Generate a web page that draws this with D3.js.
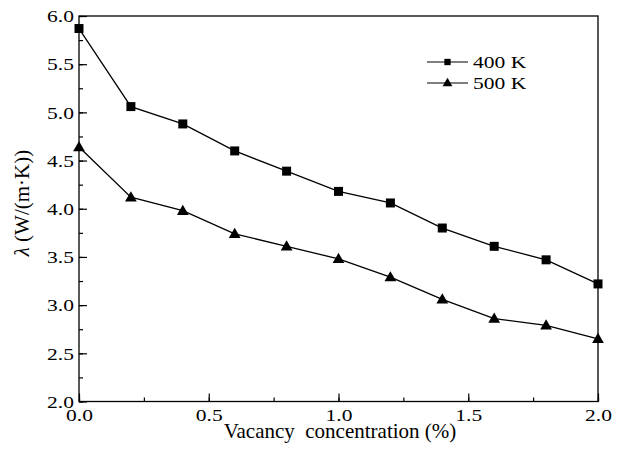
<!DOCTYPE html>
<html><head><meta charset="utf-8">
<script src="https://cdn.jsdelivr.net/npm/d3@7"></script>
<style>body{margin:0;background:#fff}svg{display:block}text{font-family:"Liberation Serif","Times New Roman",serif;fill:#000}</style>
</head><body>
<script>
const concentration = [0.0, 0.2, 0.4, 0.6, 0.8, 1.0, 1.2, 1.4, 1.6, 1.8, 2.0];
const lambda400K = [5.87, 5.06, 4.88, 4.60, 4.39, 4.18, 4.06, 3.80, 3.61, 3.47, 3.22];
const lambda500K = [4.64, 4.12, 3.98, 3.74, 3.61, 3.48, 3.29, 3.06, 2.86, 2.79, 2.65];
const seriesNames = ["400 K", "500 K"];
const xTicks = [0.0, 0.5, 1.0, 1.5, 2.0];
const yTicks = [2.0, 2.5, 3.0, 3.5, 4.0, 4.5, 5.0, 5.5, 6.0];

const W = 622, H = 454;
const L = 79, R = 598, T = 16, B = 401.5;
const FS = 17.5, SX = 1.23;
const svg = d3.select("body").append("svg").attr("width", W).attr("height", H);
const x = d3.scaleLinear().domain([0, 2]).range([L, R]);
const y = d3.scaleLinear().domain([2, 6]).range([B, T]);

// frame
svg.append("rect").attr("x", L).attr("y", T).attr("width", R - L).attr("height", B - T)
  .attr("fill", "none").attr("stroke", "#000").attr("stroke-width", 1.3);

// x axis
const xMinor = d3.range(0, 2.001, 0.25);
svg.append("g").attr("transform", `translate(0,${B})`)
  .call(d3.axisBottom(x).tickValues(xMinor).tickSize(-4).tickFormat(""))
  .call(g => g.select(".domain").remove())
  .call(g => g.selectAll("line").attr("stroke-width", 1.2));
svg.append("g").attr("transform", `translate(0,${B})`)
  .call(d3.axisBottom(x).tickValues(xTicks).tickSize(-8).tickFormat(d3.format(".1f")))
  .call(g => g.select(".domain").remove())
  .call(g => g.selectAll("line").attr("stroke-width", 1.2))
  .call(g => g.selectAll("text").attr("font-size", FS).attr("x", 0).attr("y", 0).attr("dy", "0")
    .attr("transform", `translate(0,19) scale(${SX},1)`));

// y axis
const yMinor = d3.range(2, 6.001, 0.25);
svg.append("g").attr("transform", `translate(${L},0)`)
  .call(d3.axisLeft(y).tickValues(yMinor).tickSize(-4).tickFormat(""))
  .call(g => g.select(".domain").remove())
  .call(g => g.selectAll("line").attr("stroke-width", 1.2));
svg.append("g").attr("transform", `translate(${L},0)`)
  .call(d3.axisLeft(y).tickValues(yTicks).tickSize(-8).tickFormat(d3.format(".1f")))
  .call(g => g.select(".domain").remove())
  .call(g => g.selectAll("line").attr("stroke-width", 1.2))
  .call(g => g.selectAll("text").attr("font-size", FS).attr("x", 0).attr("dy", "0.33em")
    .attr("transform", `translate(-5,0) scale(${SX},1)`));

// lines
const line = d3.line().x((d, i) => x(concentration[i])).y(d => y(d));
const series = [lambda400K, lambda500K];
const symbols = [d3.symbolSquare, d3.symbolTriangle];
const sizes = [81, 60];
series.forEach((s, k) => {
  svg.append("path").datum(s).attr("d", line).attr("fill", "none").attr("stroke", "#000").attr("stroke-width", 1.3);
  svg.append("g").selectAll("path").data(s).join("path")
    .attr("d", d3.symbol().type(symbols[k]).size(sizes[k]))
    .attr("transform", (d, i) => `translate(${x(concentration[i])},${y(d) + (k === 1 ? 0.8 : 0)})`)
    .attr("fill", "#000");
});

// legend
const lg = svg.append("g");
seriesNames.forEach((name, k) => {
  const ly = 62 + k * 21;
  lg.append("line").attr("x1", 427).attr("x2", 468).attr("y1", ly).attr("y2", ly).attr("stroke", "#000").attr("stroke-width", 1.2);
  lg.append("path").attr("d", d3.symbol().type(symbols[k]).size(k === 0 ? 40 : 42)())
    .attr("transform", `translate(447.5,${ly + (k === 1 ? 0.5 : 0)})`).attr("fill", "#000");
  lg.append("text").attr("transform", `translate(473,${ly}) scale(${SX},1)`).attr("dy", "0.35em")
    .attr("font-size", FS).text(name);
});

// axis titles
svg.append("text").attr("x", 340).attr("y", 437.5).attr("text-anchor", "middle").attr("font-size", 21)
  .style("white-space", "pre").text("Vacancy  concentration (%)");
const yl = svg.append("text").attr("transform", "translate(29,203) rotate(-90)").attr("text-anchor", "middle").attr("font-size", 21);
yl.append("tspan").attr("font-style", "italic").text("λ");
yl.append("tspan").text(" (W/(m·K))");
</script>
</body></html>
